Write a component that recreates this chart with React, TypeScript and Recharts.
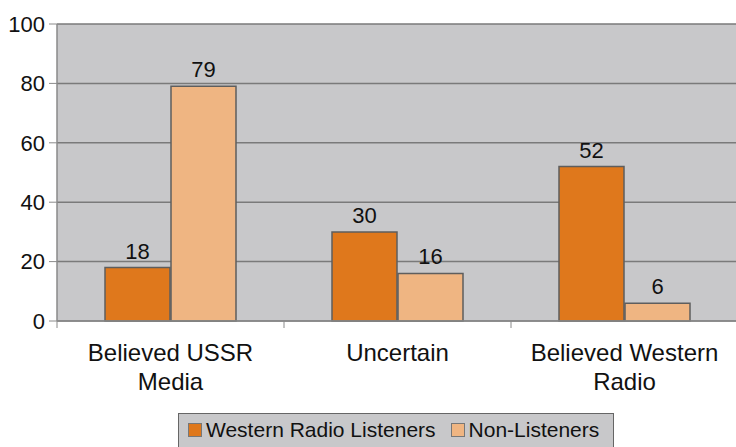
import { BarChart, Bar, XAxis, YAxis, CartesianGrid, Legend, LabelList } from 'recharts'

const categories = ['Believed USSR Media', 'Uncertain', 'Believed Western Radio']
const categoryLines: Record<string, string[]> = {
  'Believed USSR Media': ['Believed USSR', 'Media'],
  Uncertain: ['Uncertain'],
  'Believed Western Radio': ['Believed Western', 'Radio'],
}
const westernListeners = [18, 30, 52]
const nonListeners = [79, 16, 6]
const yTicks = [0, 20, 40, 60, 80, 100]
const boundaryTicks = [0, 1, 2, 3]

const seriesNames = ['Western Radio Listeners', 'Non-Listeners']
const seriesColors = ['#DF781C', '#EFB582']

const data = categories.map((name, i) => ({
  name,
  idx: i + 0.5,
  western: westernListeners[i],
  non: nonListeners[i],
}))

const FONT = '"Liberation Sans", Arial, sans-serif'

const CategoryTick = (props: any) => {
  const { x, y, payload } = props
  const lines = categoryLines[payload.value] ?? [payload.value]
  return (
    <text x={x} y={y} textAnchor="middle" fontSize={24} fontFamily={FONT} fill="#111">
      {lines.map((l, i) => (
        <tspan key={i} x={x} dy={i === 0 ? 16 : 29}>
          {l}
        </tspan>
      ))}
    </text>
  )
}

const LegendBox = () => (
  <div
    style={{
      boxSizing: 'border-box',
      width: 436,
      height: 36,
      background: '#C8C8CA',
      border: '1.5px solid #666',
      display: 'flex',
      alignItems: 'flex-start',
      paddingLeft: 9,
      paddingTop: 4,
      fontFamily: FONT,
      fontSize: 21,
      color: '#111',
      whiteSpace: 'nowrap',
    }}
  >
    {seriesNames.map((n, i) => (
      <span key={n} style={{ display: 'flex', alignItems: 'center', marginRight: 15 }}>
        <span
          style={{
            display: 'inline-block',
            boxSizing: 'border-box',
            width: 14,
            height: 14,
            background: seriesColors[i],
            border: '1.5px solid #777',
            marginRight: 4,
          }}
        />
        {n}
      </span>
    ))}
  </div>
)

export default function App() {
  return (
    <div style={{ position: 'absolute', left: 0, top: 0, width: 736, height: 447, overflow: 'hidden', background: '#fff' }}>
      <BarChart
        width={738}
        height={447}
        data={data}
        margin={{ top: 24, right: 0, left: 0, bottom: 0 }}
        barCategoryGap={48}
        barGap={1}
      >
        <CartesianGrid
          fill="#C8C8CA"
          stroke="#7A7A7A"
          strokeWidth={1.5}
          vertical={false}
          xAxisId="bCat"
        />
        <XAxis
          xAxisId="aEdge"
          type="number"
          dataKey="idx"
          domain={[0, 3]}
          ticks={boundaryTicks}
          height={1}
          tick={() => <g />}
          axisLine={{ stroke: '#8A8A8A', strokeWidth: 1.5 }}
          tickSize={7}
          tickLine={{ stroke: '#8A8A8A', strokeWidth: 1 }}
        />
        <XAxis
          xAxisId="bCat"
          dataKey="name"
          height={89}
          tickLine={false}
          axisLine={false}
          interval={0}
          tickSize={7}
          tickMargin={16}
          tick={<CategoryTick />}
        />
        <YAxis
          domain={[0, 100]}
          ticks={yTicks}
          width={57}
          tickSize={8}
          tickMargin={4}
          axisLine={{ stroke: '#8A8A8A', strokeWidth: 1.5 }}
          tickLine={{ stroke: '#8A8A8A', strokeWidth: 1 }}
          tick={{ fontSize: 22, fill: '#111', fontFamily: FONT }}
        />
        <Legend
          verticalAlign="bottom"
          content={<LegendBox />}
          wrapperStyle={{ left: 178, top: 413, width: 436, height: 36 }}
        />
        <Bar
          xAxisId="bCat"
          dataKey="western"
          name={seriesNames[0]}
          fill={seriesColors[0]}
          stroke="#5E5E5E"
          strokeWidth={1.5}
          isAnimationActive={false}
        >
          <LabelList dataKey="western" position="top" offset={9} fill="#111" fontSize={22} fontFamily={FONT} />
        </Bar>
        <Bar
          xAxisId="bCat"
          dataKey="non"
          name={seriesNames[1]}
          fill={seriesColors[1]}
          stroke="#5E5E5E"
          strokeWidth={1.5}
          isAnimationActive={false}
        >
          <LabelList dataKey="non" position="top" offset={9} fill="#111" fontSize={22} fontFamily={FONT} />
        </Bar>
      </BarChart>
    </div>
  )
}
